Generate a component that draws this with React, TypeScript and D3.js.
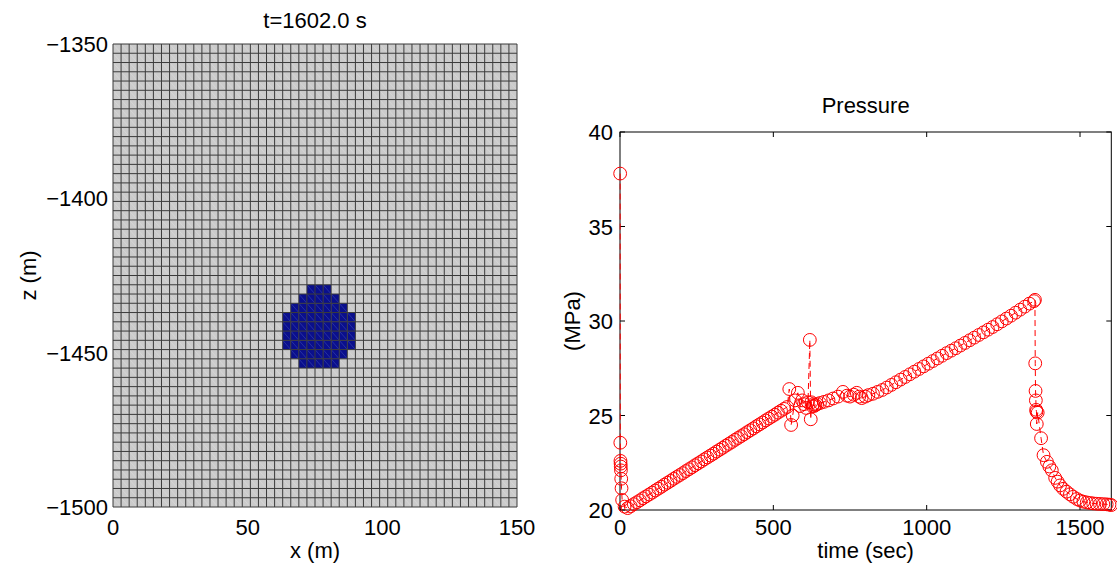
import React from 'react';
import * as d3 from 'd3';

// grid of the model (50 x 50 cells, 3 m each)
const gridX = [0, 150];
const gridZ = [-1500, -1350];
const cellSize = 3;
const nCells = 50;

// blue (CO2) cells, row index from the top, first/last column
const blobRows = [26, 27, 28, 29, 30, 31, 32, 33, 34];
const blobFrom = [24, 23, 22, 21, 21, 21, 21, 22, 23];
const blobTo = [26, 27, 28, 29, 29, 29, 29, 28, 27];

const xTicksLeft = [0, 50, 100, 150];
const zTicks = [-1350, -1400, -1450, -1500];

// pressure history
const times = [
  0.5, 1, 1.5, 2, 2.5, 3, 4, 5, 7, 15,
  25, 35, 45, 55, 65, 75, 85, 95, 105, 115, 125, 135, 145, 155, 165, 175, 185, 195,
  205, 215, 225, 235, 245, 255, 265, 275, 285, 295, 305, 315, 325, 335, 345, 355,
  365, 375, 385, 395, 405, 415, 425, 435, 445, 455, 465, 475, 485, 495, 505, 515, 525, 535,
  545, 552, 558, 563, 571, 580, 587, 594, 600, 607, 613, 619, 622, 624, 627, 630, 633, 637, 643,
  652, 665, 680, 695, 711, 727, 740, 750, 762, 772, 780, 788, 800, 810,
  825, 840, 855, 870, 885, 900, 915, 930, 945, 960, 975, 990, 1005, 1020, 1035, 1050,
  1065, 1080, 1095, 1110, 1125, 1140, 1155, 1170, 1185, 1200, 1215, 1230, 1245, 1260,
  1275, 1290, 1305, 1320, 1335, 1350, 1353,
  1354, 1355, 1356, 1357, 1358, 1359, 1362, 1373, 1381, 1392, 1400, 1408, 1419, 1427,
  1435, 1445, 1456, 1467, 1478, 1490, 1500, 1511, 1522, 1533, 1543, 1554, 1565, 1576,
  1587, 1596, 1602,
];
const pressures = [
  37.8, 23.56, 22.6, 22.45, 22.3, 22.1, 21.65, 21.15, 20.53, 20.18,
  20.1, 20.2, 20.31, 20.41, 20.51, 20.62, 20.72, 20.82, 20.92, 21.03, 21.13, 21.23, 21.34, 21.44, 21.54, 21.65, 21.75, 21.85,
  21.95, 22.06, 22.16, 22.26, 22.37, 22.47, 22.57, 22.68, 22.78, 22.88, 22.98, 23.09, 23.19, 23.29, 23.4, 23.5,
  23.6, 23.71, 23.81, 23.91, 24.01, 24.12, 24.22, 24.32, 24.43, 24.53, 24.63, 24.74, 24.84, 24.94, 25.04, 25.15, 25.25, 25.35,
  25.45, 26.4, 24.5, 25.0, 25.8, 26.2, 25.5, 25.8, 25.6, 25.4, 25.7, 29.0, 24.8, 25.7, 25.5, 25.6, 25.5, 25.55, 25.6,
  25.66, 25.72, 25.8, 25.9, 26.0, 26.25, 26.05, 26.0, 26.1, 26.2, 26.0, 25.92, 26.0, 26.08,
  26.15, 26.25, 26.35, 26.48, 26.62, 26.76, 26.9, 27.04, 27.18, 27.32, 27.46, 27.6, 27.74, 27.88, 28.02, 28.16,
  28.3, 28.43, 28.56, 28.7, 28.84, 28.98, 29.12, 29.26, 29.4, 29.54, 29.68, 29.83, 29.98, 30.13,
  30.28, 30.44, 30.6, 30.76, 30.92, 31.05, 31.12,
  27.76, 26.3, 25.8, 25.3, 25.2, 24.55, 25.15, 23.8, 22.9, 22.55, 22.3, 22.1, 21.7, 21.5,
  21.3, 21.12, 20.97, 20.83, 20.7, 20.58, 20.5, 20.44, 20.4, 20.37, 20.35, 20.33, 20.32, 20.31,
  20.3, 20.28, 20.26,
];

const timeTicks = [0, 500, 1000, 1500];
const pressureTicks = [20, 25, 30, 35, 40];

const font = '"Liberation Sans", Arial, Helvetica, sans-serif';

const App = () => {
  // left panel
  const xL = d3.scaleLinear().domain(gridX).range([113, 517]);
  const zL = d3.scaleLinear().domain(gridZ).range([507, 44]);

  const blue = new Set<string>();
  blobRows.forEach((r, i) => {
    for (let c = blobFrom[i]; c <= blobTo[i]; c++) blue.add(`${r}-${c}`);
  });

  const cells: { r: number; c: number; x0: number; x1: number; y0: number; y1: number; b: boolean }[] = [];
  for (let r = 0; r < nCells; r++) {
    for (let c = 0; c < nCells; c++) {
      const zTop = gridZ[1] - r * cellSize;
      cells.push({
        r, c,
        x0: xL(c * cellSize), x1: xL((c + 1) * cellSize),
        y0: zL(zTop), y1: zL(zTop - cellSize),
        b: blue.has(`${r}-${c}`),
      });
    }
  }
  const diagGray = cells.filter(d => !d.b).map(d => `M${d.x0},${d.y0}L${d.x1},${d.y1}`).join('');
  const diagBlue = cells.filter(d => d.b).map(d => `M${d.x0},${d.y0}L${d.x1},${d.y1}`).join('');

  // right panel
  const left = 620, right = 1111.3, top = 132, bottom = 510;
  const xR = d3.scaleLinear().domain([0, 1602]).range([left, right]);
  const yR = d3.scaleLinear().domain([20, 40]).range([bottom, top]);
  const pts = times.map((t, i) => [t, pressures[i]] as [number, number]);
  const line = d3.line<[number, number]>().x(d => xR(d[0])).y(d => yR(d[1]));

  return (
    <svg width={1117} height={568} style={{ position: 'absolute', left: 0, top: 0, background: '#fff' }}
      fontFamily={font}>
      {/* left: grid */}
      <text x={315} y={28} fontSize={22} textAnchor="middle">t=1602.0 s</text>
      <g>
        {cells.map(d => (
          <rect key={`${d.r}-${d.c}`} x={d.x0} y={d.y0} width={d.x1 - d.x0} height={d.y1 - d.y0}
            fill={d.b ? '#0a0f8c' : '#cbcbcb'} />
        ))}
        <path d={diagGray} stroke="#dadada" strokeWidth={0.6} fill="none" />
        <path d={diagBlue} stroke="#3b46b0" strokeWidth={0.6} fill="none" />
        {d3.range(nCells + 1).map(i => (
          <line key={`v${i}`} x1={xL(i * cellSize)} x2={xL(i * cellSize)} y1={zL(gridZ[0])} y2={zL(gridZ[1])}
            stroke="#3a3a3a" strokeWidth={1} />
        ))}
        {d3.range(nCells + 1).map(i => (
          <line key={`h${i}`} y1={zL(gridZ[0] + i * cellSize)} y2={zL(gridZ[0] + i * cellSize)} x1={xL(gridX[0])} x2={xL(gridX[1])}
            stroke="#3a3a3a" strokeWidth={1} />
        ))}
      </g>
      {xTicksLeft.map(t => (
        <text key={t} x={xL(t)} y={535} fontSize={22} textAnchor="middle">{t}</text>
      ))}
      {zTicks.map(t => (
        <text key={t} x={108} y={zL(t) + 8} fontSize={22} textAnchor="end">{String(t).replace('-', '\u2212')}</text>
      ))}
      <text x={315} y={558} fontSize={22} textAnchor="middle">x (m)</text>
      <text transform={`translate(36,${(zL(gridZ[0]) + zL(gridZ[1])) / 2}) rotate(-90)`} fontSize={22} textAnchor="middle">z (m)</text>

      {/* right: pressure */}
      <text x={(left + right) / 2} y={113} fontSize={22} textAnchor="middle">Pressure</text>
      <rect x={left} y={top} width={right - left} height={bottom - top} fill="none" stroke="#000" strokeWidth={1} />
      {timeTicks.map(t => (
        <g key={t}>
          <line x1={xR(t)} x2={xR(t)} y1={bottom} y2={bottom - 5} stroke="#000" />
          <line x1={xR(t)} x2={xR(t)} y1={top} y2={top + 5} stroke="#000" />
          <text x={xR(t)} y={535} fontSize={22} textAnchor="middle">{t}</text>
        </g>
      ))}
      {pressureTicks.map(p => (
        <g key={p}>
          <line x1={left} x2={left + 5} y1={yR(p)} y2={yR(p)} stroke="#000" />
          <line x1={right} x2={right - 5} y1={yR(p)} y2={yR(p)} stroke="#000" />
          <text x={613} y={yR(p) + 8} fontSize={22} textAnchor="end">{p}</text>
        </g>
      ))}
      <text x={(left + right) / 2} y={558} fontSize={22} textAnchor="middle">time (sec)</text>
      <text transform={`translate(580,${(top + bottom) / 2}) rotate(-90)`} fontSize={22} textAnchor="middle">(MPa)</text>
      <path d={line(pts) || ''} fill="none" stroke="#ff0000" strokeWidth={1} strokeDasharray="6,4" />
      {pts.map((d, i) => (
        <circle key={i} cx={xR(d[0])} cy={yR(d[1])} r={6.4} fill="none" stroke="#ff0000" strokeWidth={1} />
      ))}
    </svg>
  );
};

export default App;
